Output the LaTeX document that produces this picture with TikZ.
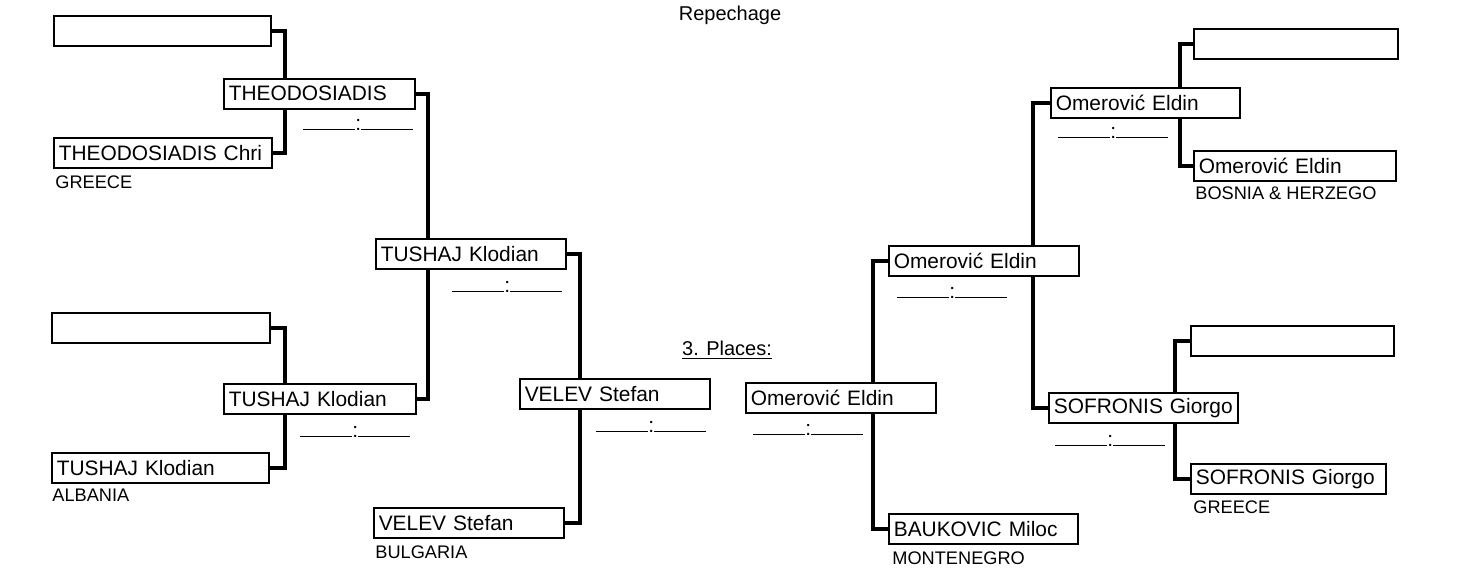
\documentclass[tikz,border=0pt]{standalone}
\usepackage{fontspec}
\setmainfont{Liberation Sans}
\newcommand{\namefont}{\fontsize{10.45pt}{12pt}\selectfont}
\newcommand{\landfont}{\fontsize{9.1pt}{10pt}\selectfont}
\newcommand{\scoreline}{\rule{26pt}{.5pt}{:}\rule{26pt}{.5pt}}

\begin{document}
\begin{tikzpicture}[x=0.5pt, y=-0.5pt,
  entry/.style={draw, line width=0.8pt, anchor=north west, minimum height=15pt,
    inner xsep=2.5pt, inner ysep=0pt, text width=#1, align=left, font=\namefont},
  land/.style={anchor=west, inner sep=0pt, font=\landfont},
  score/.style={anchor=base west, inner sep=0pt, font=\namefont},
  link/.style={line width=1.9pt}]
\useasboundingbox (0,0) rectangle (1462,574);

\node[font=\fontsize{10pt}{12pt}\selectfont] (T) at (730,15) {Repechage};
\node[font=\fontsize{10pt}{12pt}\selectfont] (P) at (727,350) {\underline{3. Places:}};

% left half
\node[entry=103.5pt] (A1) at (53,15) {};
\node[entry=104pt] (A2) at (53,137) {THEODOSIADIS Chri};
\node[entry=104pt] (A3) at (51,312) {};
\node[entry=103.5pt] (A4) at (51,452) {TUSHAJ Klodian};
\node[entry=90.5pt] (B1) at (223,78) {THEODOSIADIS};
\node[entry=91pt] (B2) at (223,383) {TUSHAJ Klodian};
\node[entry=90pt] (C1) at (375,238) {TUSHAJ Klodian};
\node[entry=90pt] (D1) at (519,378) {VELEV Stefan};
\node[entry=90pt] (D2) at (373,507) {VELEV Stefan};

\node[land] (LA2) at (55,182) {GREECE};
\node[land] (LA4) at (52,495) {ALBANIA};
\node[land] (LD2) at (375,552) {BULGARIA};

% right half
\node[entry=90pt] (E1) at (745,382) {Omerović Eldin};
\node[entry=89.5pt] (E2) at (888,513) {BAUKOVIC Miloc};
\node[entry=90pt] (F1) at (888,245) {Omerović Eldin};
\node[entry=89.5pt] (G1) at (1050,87) {Omerović Eldin};
\node[entry=89.5pt] (G2) at (1048,392) {SOFRONIS Giorgo};
\node[entry=97pt] (H1) at (1193,28) {};
\node[entry=96pt] (H2) at (1193,150) {Omerović Eldin};
\node[entry=96.5pt] (H3) at (1190,325) {};
\node[entry=92.5pt] (H4) at (1190,463) {SOFRONIS Giorgo};

\node[land] (LE2) at (892,558) {MONTENEGRO};
\node[land] (LH2) at (1195,193) {BOSNIA \& HERZEGO};
\node[land] (LH4) at (1193,507) {GREECE};

% scores
\node[score] (SB1) at (303,130) {\scoreline};
\node[score] (SB2) at (300,437) {\scoreline};
\node[score] (SC1) at (452,292) {\scoreline};
\node[score] (SD1) at (596,432) {\scoreline};
\node[score] (SE1) at (753,435) {\scoreline};
\node[score] (SF1) at (897,298) {\scoreline};
\node[score] (SG1) at (1058,138) {\scoreline};
\node[score] (SG2) at (1055,446) {\scoreline};

% brackets
\coordinate (VA) at (285,0);
\coordinate (VC) at (428,0);
\coordinate (VD) at (580,0);
\coordinate (VE) at (873,0);
\coordinate (VF) at (1033,0);
\coordinate (VG) at (1180,0);
\coordinate (VH) at (1175,0);

\draw[link] (A1.east) -| (VA |- B1.north) (VA |- B1.south) |- (A2.east);
\draw[link] (A3.east) -| (VA |- B2.north) (VA |- B2.south) |- (A4.east);
\draw[link] (B1.east) -| (VC |- C1.north) (VC |- C1.south) |- (B2.east);
\draw[link] (C1.east) -| (VD |- D1.north) (VD |- D1.south) |- (D2.east);
\draw[link] (F1.west) -| (VE |- E1.north) (VE |- E1.south) |- (E2.west);
\draw[link] (G1.west) -| (VF |- F1.north) (VF |- F1.south) |- (G2.west);
\draw[link] (H1.west) -| (VG |- G1.north) (VG |- G1.south) |- (H2.west);
\draw[link] (H3.west) -| (VH |- G2.north) (VH |- G2.south) |- (H4.west);
\end{tikzpicture}
\end{document}
